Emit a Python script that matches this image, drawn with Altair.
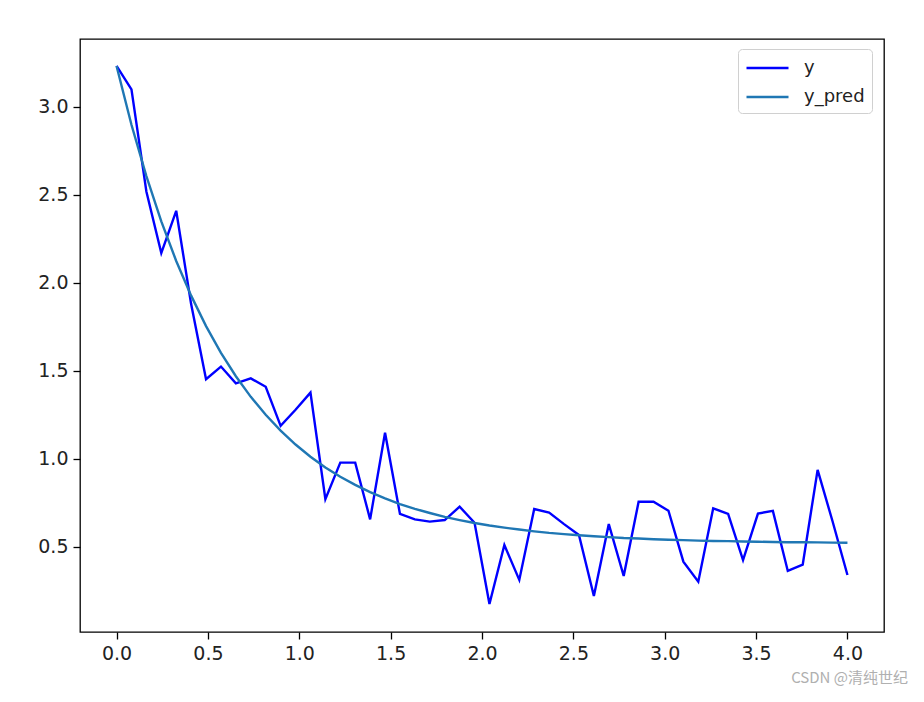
import altair as alt
import pandas as pd

n_points = 50
x_vals = [round(i * 4 / 49, 5) for i in range(n_points)]

y_obs = [3.233, 3.10, 2.52, 2.17, 2.41, 1.88, 1.453, 1.525, 1.43, 1.458,
         1.41, 1.188, 1.28, 1.377, 0.771, 0.979, 0.979, 0.657, 1.149, 0.688,
         0.657, 0.644, 0.653, 0.729, 0.638, 0.176, 0.511, 0.313, 0.716, 0.695,
         0.63, 0.568, 0.222, 0.63, 0.335, 0.757, 0.757, 0.706, 0.417, 0.303,
         0.72, 0.688, 0.426, 0.69, 0.705, 0.364, 0.40, 0.938, 0.646, 0.341]

y_pred = [3.233, 2.899, 2.607, 2.350, 2.125, 1.928, 1.755, 1.603, 1.470, 1.353,
          1.251, 1.161, 1.082, 1.013, 0.952, 0.899, 0.853, 0.812, 0.776, 0.744,
          0.717, 0.693, 0.671, 0.653, 0.636, 0.622, 0.610, 0.599, 0.589, 0.580,
          0.573, 0.567, 0.561, 0.556, 0.551, 0.548, 0.544, 0.541, 0.539, 0.536,
          0.534, 0.533, 0.531, 0.530, 0.528, 0.527, 0.527, 0.526, 0.525, 0.524]

series_names = ["y", "y_pred"]
series_colors = ["#0000ff", "#1f77b4"]
x_ticks = [0.0, 0.5, 1.0, 1.5, 2.0, 2.5, 3.0, 3.5, 4.0]
y_ticks = [0.5, 1.0, 1.5, 2.0, 2.5, 3.0]

rows = []
for i in range(n_points):
    rows.append({"x": x_vals[i], "value": y_obs[i], "series": "y", "order": i})
for i in range(n_points):
    rows.append({"x": x_vals[i], "value": y_pred[i], "series": "y_pred", "order": i})
df = pd.DataFrame(rows)

FONT = "DejaVu Sans"
FS = 19

axis_common = dict(format=".1f", title=None, grid=False, domain=False,
                   tickColor="black", tickSize=7, tickWidth=1.3,
                   labelFontSize=FS, labelColor="#222222", labelFont=FONT,
                   labelPadding=5, labelFlush=False)

chart = (
    alt.Chart(df)
    .mark_line(strokeWidth=2.4)
    .encode(
        x=alt.X("x:Q",
                scale=alt.Scale(domain=[-0.2, 4.2], nice=False, zero=False),
                axis=alt.Axis(values=x_ticks, **axis_common)),
        y=alt.Y("value:Q",
                scale=alt.Scale(domain=[0.017, 3.386], nice=False, zero=False),
                axis=alt.Axis(values=y_ticks, **axis_common)),
        color=alt.Color("series:N",
                        scale=alt.Scale(domain=series_names, range=series_colors),
                        legend=alt.Legend(orient="none", legendX=658, legendY=10,
                                          title=None, symbolType="M-1,0H3",
                                          symbolStrokeWidth=2.4, symbolSize=441,
                                          labelFontSize=18, labelFont=FONT,
                                          labelColor="#222222", labelOffset=35,
                                          rowPadding=8, padding=7,
                                          fillColor="white", strokeColor="#d0d0d0",
                                          cornerRadius=4)),
        order="order:Q",
    )
    .properties(
        width=804,
        height=593,
        autosize=alt.AutoSizeParams(type="none"),
        padding={"left": 72, "top": 31, "right": 32, "bottom": 60},
        title=alt.TitleParams("CSDN @清纯世纪", orient="bottom", anchor="end",
                              font="Noto Sans CJK SC", fontSize=15, fontWeight="normal",
                              color="#b0b0b0", offset=8, dx=24),
    )
    .configure(background="white")
    .configure_view(stroke="black", strokeWidth=1.3)
)

chart.save("out.html", embed_options={"renderer": "svg", "actions": False})
